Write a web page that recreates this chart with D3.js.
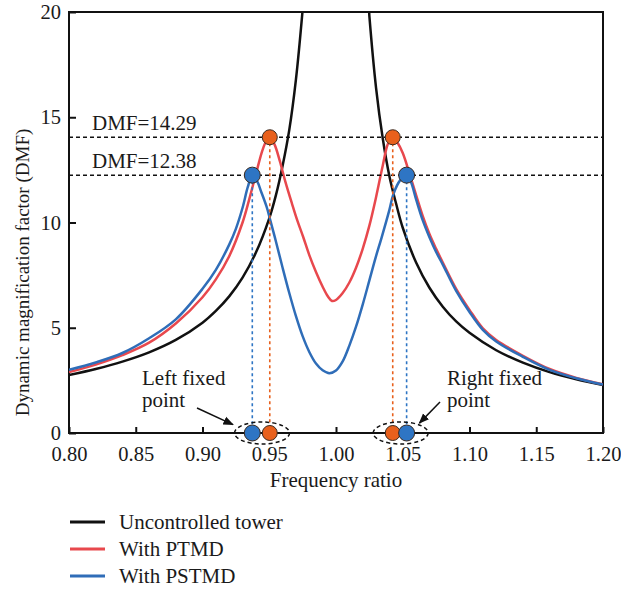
<!DOCTYPE html>
<meta charset="utf-8">

<!-- Load d3.js -->
<script src="https://d3js.org/d3.v7.min.js"></script>

<style>
body { margin: 0; background: #fff; }
text { font-family: "Liberation Serif", "Times New Roman", serif; fill: #1a1a1a; }
</style>

<div id="my_dataviz"></div>

<script>

// frequency ratio and DMF readings for each curve
var ratioBlack = [0.80, 0.82, 0.84, 0.86, 0.88, 0.90, 0.91, 0.92, 0.93, 0.94, 0.95, 0.955, 0.96, 0.965, 0.97, 0.975, 0.978,
                  1.022, 1.025, 1.03, 1.035, 1.04, 1.045, 1.05, 1.06, 1.07, 1.08, 1.09, 1.10, 1.12, 1.14, 1.16, 1.18, 1.20];
var dmfBlack   = [2.75, 3.04, 3.39, 3.83, 4.42, 5.24, 5.80, 6.49, 7.38, 8.57, 10.2, 11.3, 12.7, 14.4, 16.8, 20.1, 22.5,
                  22.5, 19.8, 16.4, 14.0, 12.2, 10.9, 9.75, 8.10, 6.90, 6.00, 5.30, 4.76, 3.93, 3.34, 2.89, 2.55, 2.28];

var ratioPTMD = [0.80, 0.82, 0.84, 0.86, 0.88, 0.90, 0.91, 0.92, 0.93, 0.935, 0.94, 0.945, 0.948, 0.9504, 0.954, 0.958, 0.962,
                 0.967, 0.971, 0.9755, 0.98, 0.985, 0.99, 0.994, 0.997, 1.00, 1.005, 1.01, 1.015, 1.02, 1.025, 1.03, 1.035,
                 1.039, 1.0425, 1.046, 1.05, 1.0554, 1.06, 1.065, 1.07, 1.075, 1.08, 1.09, 1.10, 1.11, 1.12, 1.14, 1.16, 1.18, 1.20];
var dmfPTMD   = [2.89, 3.25, 3.70, 4.29, 5.20, 6.45, 7.30, 8.40, 10.0, 11.1, 12.3, 13.45, 13.9, 14.05, 13.7, 12.9, 11.95,
                 10.9, 10.1, 9.30, 8.45, 7.65, 6.95, 6.48, 6.27, 6.32, 6.65, 7.15, 7.85, 8.75, 9.85, 11.2, 12.7,
                 13.75, 14.05, 13.8, 13.3, 12.25, 11.3, 10.3, 9.45, 8.75, 8.10, 6.85, 5.85, 4.97, 4.42, 3.67, 3.04, 2.62, 2.31];

var ratioPSTMD = [0.80, 0.82, 0.84, 0.86, 0.88, 0.90, 0.91, 0.92, 0.925, 0.93, 0.934, 0.9373, 0.941, 0.944, 0.948, 0.9506, 0.955,
                  0.96, 0.965, 0.97, 0.975, 0.98, 0.985, 0.99, 0.995, 1.00, 1.005, 1.01, 1.015, 1.02, 1.025, 1.03, 1.034,
                  1.04, 1.043, 1.048, 1.0529, 1.056, 1.06, 1.065, 1.07, 1.075, 1.08, 1.09, 1.10, 1.11, 1.12, 1.14, 1.16, 1.18, 1.20];
var dmfPSTMD   = [3.00, 3.35, 3.80, 4.50, 5.40, 6.85, 7.75, 8.95, 9.70, 10.7, 11.7, 12.25, 11.95, 11.45, 10.75, 10.15, 9.10,
                  7.85, 6.65, 5.55, 4.60, 3.85, 3.30, 2.98, 2.84, 2.97, 3.40, 4.15, 5.05, 6.10, 7.25, 8.40, 9.25,
                  10.6, 11.35, 12.0, 12.25, 11.95, 11.1, 10.1, 9.30, 8.60, 8.00, 6.75, 5.75, 4.90, 4.35, 3.62, 3.00, 2.60, 2.30];

var xTicks = [0.80, 0.85, 0.90, 0.95, 1.00, 1.05, 1.10, 1.15, 1.20];
var yTicks = [0, 5, 10, 15, 20];

// fixed points and peak levels
var peakLabels = ["DMF=14.29", "DMF=12.38"];
var peakLevels = [14.05, 12.25];
var fixedPTMD = [0.9504, 1.0425];
var fixedPSTMD = [0.9373, 1.0529];

var legendNames = ["Uncontrolled tower", "With PTMD", "With PSTMD"];
var colors = ["#111111", "#e8484d", "#2f6db8"];
var orange = "#e8601c", lightBlue = "#2e75c4";

var W = 621, H = 590;
var svg = d3.select("#my_dataviz")
  .append("svg")
    .attr("width", W)
    .attr("height", H);

var x = d3.scaleLinear().domain([0.8, 1.2]).range([69, 603]);
var y = d3.scaleLinear().domain([0, 20]).range([433, 12]);

svg.append("clipPath").attr("id", "plotclip")
  .append("rect")
    .attr("x", x(0.8)).attr("y", y(20))
    .attr("width", x(1.2) - x(0.8)).attr("height", y(0) - y(20));

// axes (ticks point inward)
var xAxis = svg.append("g")
  .attr("transform", "translate(0," + y(0) + ")")
  .call(d3.axisBottom(x).tickValues(xTicks).tickFormat(d3.format(".2f")).tickSize(-6).tickSizeOuter(0).tickPadding(13));
var yAxis = svg.append("g")
  .attr("transform", "translate(" + x(0.8) + ",0)")
  .call(d3.axisLeft(y).tickValues(yTicks).tickSize(-7).tickSizeOuter(0).tickPadding(8));
[xAxis, yAxis].forEach(function(a) {
  a.select(".domain").remove();
  a.selectAll(".tick line").attr("stroke", "#111").attr("stroke-width", 2);
  a.selectAll("text").style("font-size", "20.5px").attr("fill", "#1a1a1a");
});

// frame
svg.append("rect")
  .attr("x", x(0.8)).attr("y", y(20))
  .attr("width", x(1.2) - x(0.8)).attr("height", y(0) - y(20))
  .attr("fill", "none").attr("stroke", "#111").attr("stroke-width", 2);

// curves
var line = d3.line()
  .x(function(d) { return x(d[0]); })
  .y(function(d) { return y(d[1]); })
  .curve(d3.curveCatmullRom.alpha(0.5));

var series = [d3.zip(ratioBlack, dmfBlack), d3.zip(ratioPTMD, dmfPTMD), d3.zip(ratioPSTMD, dmfPSTMD)];
svg.append("g")
  .attr("clip-path", "url(#plotclip)")
  .selectAll("path")
  .data(series)
  .enter()
  .append("path")
    .attr("d", line)
    .attr("fill", "none")
    .attr("stroke", function(d, i) { return colors[i]; })
    .attr("stroke-width", 2.5);

// horizontal peak lines
peakLevels.forEach(function(v, i) {
  svg.append("line")
    .attr("x1", x(0.8)).attr("x2", x(1.2))
    .attr("y1", y(v)).attr("y2", y(v))
    .attr("stroke", "#111").attr("stroke-width", 1.5).attr("stroke-dasharray", "4,3");
  svg.append("text")
    .attr("x", x(0.8) + 23).attr("y", y(v) - 7)
    .style("font-size", "21px")
    .text(peakLabels[i]);
});

// vertical dashed drops from the fixed points
var drops = fixedPTMD.map(function(r) { return {r: r, v: peakLevels[0], c: orange}; })
  .concat(fixedPSTMD.map(function(r) { return {r: r, v: peakLevels[1], c: lightBlue}; }));

svg.selectAll(".drop")
  .data(drops)
  .enter()
  .append("line")
    .attr("x1", function(d) { return x(d.r); })
    .attr("x2", function(d) { return x(d.r); })
    .attr("y1", function(d) { return y(d.v); })
    .attr("y2", y(0))
    .attr("stroke", function(d) { return d.c; })
    .attr("stroke-width", 1.6)
    .attr("stroke-dasharray", "3,3");

// ellipses round each pair on the axis
[[fixedPSTMD[0], fixedPTMD[0]], [fixedPTMD[1], fixedPSTMD[1]]].forEach(function(p) {
  svg.append("ellipse")
    .attr("cx", (x(p[0]) + x(p[1])) / 2 + 1)
    .attr("cy", y(0))
    .attr("rx", 27.5).attr("ry", 11)
    .attr("fill", "none").attr("stroke", "#111")
    .attr("stroke-width", 1.5).attr("stroke-dasharray", "4,3");
});

// dots at peaks and on the axis
var dots = [];
drops.forEach(function(d) {
  dots.push({r: d.r, v: d.v, c: d.c});
  dots.push({r: d.r, v: 0, c: d.c});
});
svg.selectAll(".dot")
  .data(dots)
  .enter()
  .append("circle")
    .attr("cx", function(d) { return x(d.r); })
    .attr("cy", function(d) { return y(d.v); })
    .attr("r", function(d) { return d.c === orange ? 7.5 : 8; })
    .attr("fill", function(d) { return d.c; })
    .attr("stroke", "#3a2a20")
    .attr("stroke-width", 1);

// fixed point notes with arrows
svg.append("defs").append("marker")
  .attr("id", "arrow")
  .attr("viewBox", "0 0 10 10")
  .attr("refX", 9).attr("refY", 5)
  .attr("markerWidth", 7).attr("markerHeight", 7)
  .attr("orient", "auto")
  .append("path")
    .attr("d", "M0,1 L10,5 L0,9 z")
    .attr("fill", "#111");

var notes = [
  {lines: ["Left fixed", "point"], r: 0.8547, from: [0.8959, 1.19], to: [0.9228, 0.40]},
  {lines: ["Right fixed", "point"], r: 1.0831, from: [1.0779, 1.47], to: [1.0625, 0.47]}
];
notes.forEach(function(n) {
  n.lines.forEach(function(t, i) {
    svg.append("text")
      .attr("x", x(n.r)).attr("y", y(2.28) + i * 22)
      .style("font-size", "21px")
      .text(t);
  });
  svg.append("line")
    .attr("x1", x(n.from[0])).attr("y1", y(n.from[1]))
    .attr("x2", x(n.to[0])).attr("y2", y(n.to[1]))
    .attr("stroke", "#111").attr("stroke-width", 1.5)
    .attr("marker-end", "url(#arrow)");
});

// axis titles
svg.append("text")
  .attr("x", (x(0.8) + x(1.2)) / 2).attr("y", 487)
  .attr("text-anchor", "middle")
  .style("font-size", "21px")
  .text("Frequency ratio");

svg.append("text")
  .attr("transform", "translate(29," + ((y(0) + y(20)) / 2 + 50) + ") rotate(-90)")
  .attr("text-anchor", "middle")
  .style("font-size", "19px")
  .text("Dynamic magnification factor (DMF)");

// legend
var leg = svg.append("g").selectAll("g")
  .data(legendNames)
  .enter()
  .append("g")
    .attr("transform", function(d, i) { return "translate(0," + (522 + i * 27) + ")"; });
leg.append("line")
  .attr("x1", 70).attr("x2", 105)
  .attr("stroke", function(d, i) { return colors[i]; })
  .attr("stroke-width", 3);
leg.append("text")
  .attr("x", 119).attr("dy", "0.32em")
  .style("font-size", "21px")
  .text(function(d) { return d; });

</script>
